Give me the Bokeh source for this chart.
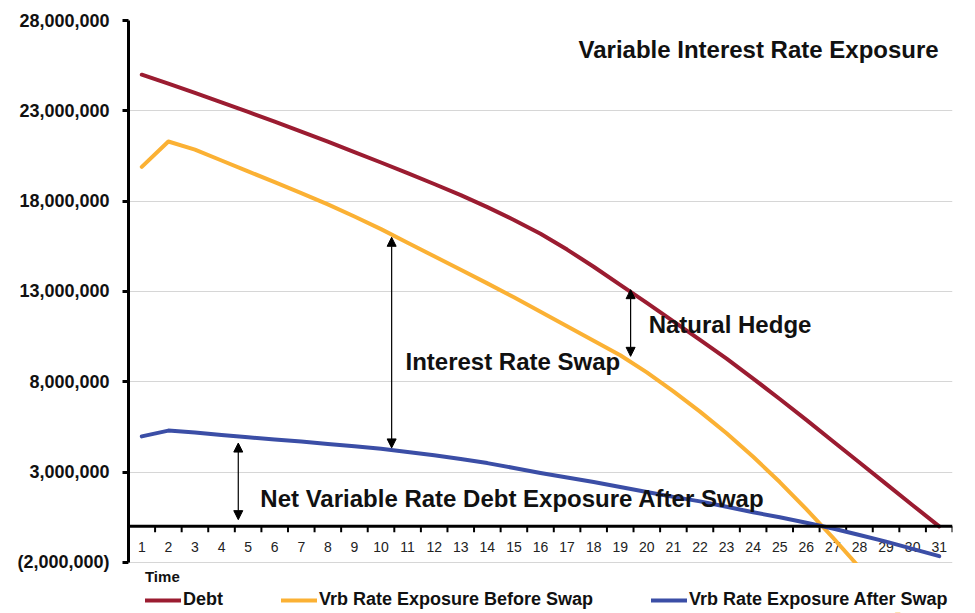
from bokeh.plotting import figure
from bokeh.models import (Range1d, FixedTicker, NumeralTickFormatter, Arrow, BoxAnnotation,
                          NormalHead, Label, Legend, LegendItem, Span)
from bokeh.embed import file_html
from bokeh.resources import INLINE

# ---------------- data (values in currency units) ----------------
periods = list(range(1, 32))
x_tick_labels = [str(t) for t in periods]

debt_m = [25.0, 24.5, 23.99, 23.47, 22.94, 22.40, 21.85, 21.29, 20.72, 20.14,
          19.55, 18.95, 18.33, 17.67, 16.96, 16.20, 15.32, 14.37, 13.37, 12.37,
          11.35, 10.32, 9.28, 8.18, 7.05, 5.89, 4.71, 3.53, 2.35, 1.17, 0.0]
before_swap_m = [19.9, 21.3, 20.85, 20.25, 19.65, 19.05, 18.45, 17.82, 17.15, 16.45,
                 15.7, 14.95, 14.2, 13.45, 12.68, 11.88, 11.07, 10.27, 9.47, 8.52,
                 7.47, 6.35, 5.15, 3.85, 2.45, 0.95, -0.63, -2.28, -4.0, -5.75, -7.5]
after_swap_m = [4.98, 5.3, 5.2, 5.05, 4.93, 4.81, 4.69, 4.56, 4.43, 4.29,
                4.12, 3.93, 3.73, 3.5, 3.23, 2.95, 2.7, 2.45, 2.18, 1.9,
                1.63, 1.38, 1.08, 0.78, 0.5, 0.2, -0.12, -0.48, -0.85, -1.25, -1.65]
debt = [v * 1e6 for v in debt_m]
before_swap = [v * 1e6 for v in before_swap_m]
after_swap = [v * 1e6 for v in after_swap_m]

y_ticks = [-2e6, 3e6, 8e6, 13e6, 18e6, 23e6, 28e6]
y_axis_min, y_axis_max = -2e6, 28e6

series_names = ["Debt", "Vrb Rate Exposure Before Swap", "Vrb Rate Exposure After Swap"]
series_colors = ["#9b1c31", "#fbb134", "#3b4ea6"]
x_title = "Time"

# annotation texts and anchors (period, value)
notes = [
    ("Variable Interest Rate Exposure", 17.43, 26.4e6),
    ("Natural Hedge", 20.07, 11.18e6),
    ("Interest Rate Swap", 10.92, 9.14e6),
    ("Net Variable Rate Debt Exposure After Swap", 5.46, 1.55e6),
]
arrows = [  # (period, top value, bottom value)
    (19.39, 13.1e6, 9.41e6),
    (10.40, 16.0e6, 4.34e6),
    (4.63, 4.61e6, 0.37e6),
]

FONT = "Liberation Sans"
TICK_DEPTH = 0.33e6  # length of the category tick marks below the zero line

# the frame runs to the bottom of the canvas so the legend can sit inside it;
# everything below the axis minimum is masked white (like the original's clipping)
p = figure(width=975, height=613, x_range=Range1d(0.5, 31.5), y_range=Range1d(-4.77e6, 28e6),
           output_backend="svg", toolbar_location=None, x_axis_location=None,
           min_border_left=128, min_border_top=20, min_border_right=23, min_border_bottom=1)
p.outline_line_color = None
p.xgrid.visible = False
p.ygrid.ticker = FixedTicker(ticks=y_ticks)
p.ygrid.grid_line_color = "#d6d6d6"
p.ygrid.grid_line_width = 1

# y axis
ya = p.yaxis[0]
ya.bounds = (y_axis_min, y_axis_max)
ya.ticker = FixedTicker(ticks=y_ticks)
ya.formatter = NumeralTickFormatter(format="(0,0)")
ya.major_label_text_font = FONT
ya.major_label_text_font_style = "bold"
ya.major_label_text_font_size = "18px"
ya.major_label_text_color = "#111111"
ya.axis_line_width = 3
ya.axis_line_color = "black"
ya.major_tick_line_width = 3
ya.major_tick_out = 6
ya.major_tick_in = 0
ya.minor_tick_out = 0
ya.minor_tick_in = 0
ya.major_label_standoff = 13

# zero line acting as the category axis
p.add_layout(Span(location=0, dimension="width", line_color="black", line_width=3))

# tick marks at category boundaries, pointing down from the zero line
boundaries = [t + 0.5 for t in periods]
p.segment(x0=boundaries, y0=[0] * len(boundaries), x1=boundaries,
          y1=[-TICK_DEPTH] * len(boundaries), line_color="black", line_width=2)

# category labels under the zero line
p.text(x=periods, y=[0] * len(periods), text=x_tick_labels, y_offset=21,
       text_align="center", text_baseline="middle", text_font_size="14px",
       text_color="#222222", text_font={"value": FONT})

renderers = []
for vals, col in zip([debt, before_swap, after_swap], series_colors):
    r = p.line(periods, vals, line_color=col, line_width=4, line_join="round", line_cap="round")
    renderers.append(r)

# mask below the axis minimum
p.add_layout(BoxAnnotation(top=y_axis_min - 0.03e6, fill_color="white", fill_alpha=1.0,
                           line_color=None))

for x, top, bottom in arrows:
    p.add_layout(Arrow(x_start=x, y_start=bottom, x_end=x, y_end=top,
                       line_color="black", line_width=1.2,
                       start=NormalHead(size=9, fill_color="black", line_color="black", line_width=1),
                       end=NormalHead(size=9, fill_color="black", line_color="black", line_width=1)))

for txt, x, y in notes:
    p.add_layout(Label(x=x, y=y, text=txt, text_font=FONT, text_font_style="bold",
                       text_font_size="24px", text_color="#111111",
                       text_baseline="middle", text_align="left"))

p.add_layout(Label(x=1.12, y=-2.78e6, text=x_title, text_font=FONT, text_font_style="bold",
                   text_font_size="15px", text_color="#111111",
                   text_baseline="middle", text_align="left"))

legend = Legend(items=[LegendItem(label=n, renderers=[r]) for n, r in zip(series_names, renderers)],
                orientation="horizontal", location=(17, 2), padding=0, margin=0,
                spacing=58, glyph_width=36, glyph_height=20, label_standoff=2,
                label_text_font=FONT, label_text_font_size="18px", label_text_font_style="bold",
                label_text_color="#111111", border_line_color=None, background_fill_alpha=0)
p.add_layout(legend)

open("out.html", "w").write(file_html(p, INLINE))
